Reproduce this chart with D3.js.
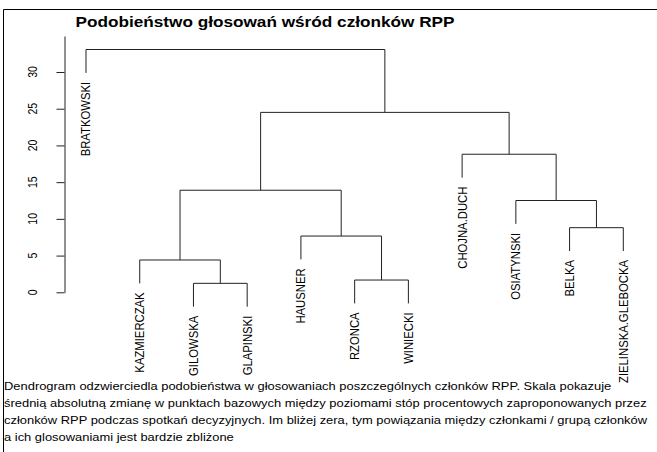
<!DOCTYPE html>
<html>
<head>
<meta charset="UTF-8">
<title>Podobieństwo głosowań</title>
<script src="https://d3js.org/d3.v7.min.js"></script>
<style>
body { margin: 0; background: #fff; }
svg text { font-family: "Liberation Sans", Arial, sans-serif; fill: #000; }
</style>
</head>
<body>
<svg id="chart" width="657" height="452"></svg>
<script>
// leaf order as drawn
var labels = ["BRATKOWSKI", "KAZMIERCZAK", "GILOWSKA", "GLAPINSKI", "HAUSNER", "RZONCA",
              "WINIECKI", "CHOJNA.DUCH", "OSIATYNSKI", "BELKA", "ZIELINSKA.GLEBOCKA"];
// merge steps, like R's hclust$merge: negative = leaf (1-based), positive = earlier step
var mergeLeft   = [-3, -6, -2, -5, -10, -9,  3, -8,  7, -1];
var mergeRight  = [-4, -7,  1,  2, -11,  5,  4,  6,  8,  9];
var mergeHeight = [1.22, 1.67, 4.4, 7.66, 8.8, 12.5, 13.9, 18.8, 24.5, 33.06];
var yTicks = [0, 5, 10, 15, 20, 25, 30];

var title = "Podobieństwo głosowań wśród członków RPP";
var caption = [
  "Dendrogram odzwierciedla podobieństwa w głosowaniach poszczególnych członków RPP. Skala pokazuje",
  "średnią absolutną zmianę w punktach bazowych między poziomami stóp procentowych zaproponowanych przez",
  "członków RPP podczas spotkań decyzyjnych. Im bliżej zera, tym powiązania między członkami / grupą członków",
  "a ich glosowaniami jest bardzie zbliżone"
];

var svg = d3.select("#chart");
var lineCol = "#222";
var sx = 1.17; // the source image is a little stretched sideways

// outer frame (left + top edges visible)
svg.append("path").attr("d", "M3.5,452V9.5H657").attr("fill", "none").attr("stroke", "#000").attr("stroke-width", 1);

var x = d3.scaleLinear().domain([0.6, labels.length + 0.4]).range([64.5, 644.8]);
var y = d3.scaleLinear().domain([0, 34.9]).range([292.3, 36]);

var hang = 0.1 * (d3.max(mergeHeight) - d3.min(mergeHeight));

// positions of each merge node
var nodeX = [], nodeY = [];
function childPos(c, h) {
  if (c < 0) return { x: x(-c), y: h - hang, leaf: -c - 1 };
  return { x: nodeX[c - 1], y: nodeY[c - 1], leaf: -1 };
}
var leafEnd = [];
var g = svg.append("g");
for (var i = 0; i < mergeHeight.length; i++) {
  var h = mergeHeight[i];
  var a = childPos(mergeLeft[i], h);
  var b = childPos(mergeRight[i], h);
  nodeX[i] = (a.x + b.x) / 2;
  nodeY[i] = h;
  if (a.leaf >= 0) leafEnd[a.leaf] = a.y;
  if (b.leaf >= 0) leafEnd[b.leaf] = b.y;
  var p = d3.path();
  p.moveTo(a.x, y(a.y));
  p.lineTo(a.x, y(h));
  p.lineTo(b.x, y(h));
  p.lineTo(b.x, y(b.y));
  g.append("path").attr("d", p.toString()).attr("fill", "none")
    .attr("stroke", lineCol).attr("stroke-width", 1);
}

// leaf labels, rotated
labels.forEach(function(lab, k) {
  var lx = x(k + 1) + 4.5, ly = y(leafEnd[k]) + 9;
  svg.append("text").attr("transform", "translate(" + lx + "," + ly + ") scale(" + sx + ",1) rotate(-90)")
    .attr("text-anchor", "end").style("font-size", "11.3px").text(lab);
});

// y axis
var yAxis = svg.append("g").attr("transform", "translate(64.5,0)")
  .call(d3.axisLeft(y).tickValues(yTicks).tickSize(8).tickSizeOuter(0));
yAxis.selectAll("path, line").attr("stroke", lineCol);
yAxis.selectAll("text").remove();
yTicks.forEach(function(t) {
  svg.append("text").attr("transform", "translate(37," + y(t) + ") scale(" + sx + ",1) rotate(-90)")
    .attr("text-anchor", "middle").style("font-size", "10.5px").text(t);
});

// title
svg.append("text").attr("transform", "translate(265,27) scale(" + sx + ",1)").attr("text-anchor", "middle")
  .style("font-size", "14.7px").style("font-weight", "bold").text(title);

// caption
caption.forEach(function(line, k) {
  svg.append("text").attr("transform", "translate(4," + (390 + k * 17) + ") scale(" + sx + ",1)")
    .style("font-size", "11.05px").text(line);
});
</script>
</body>
</html>
